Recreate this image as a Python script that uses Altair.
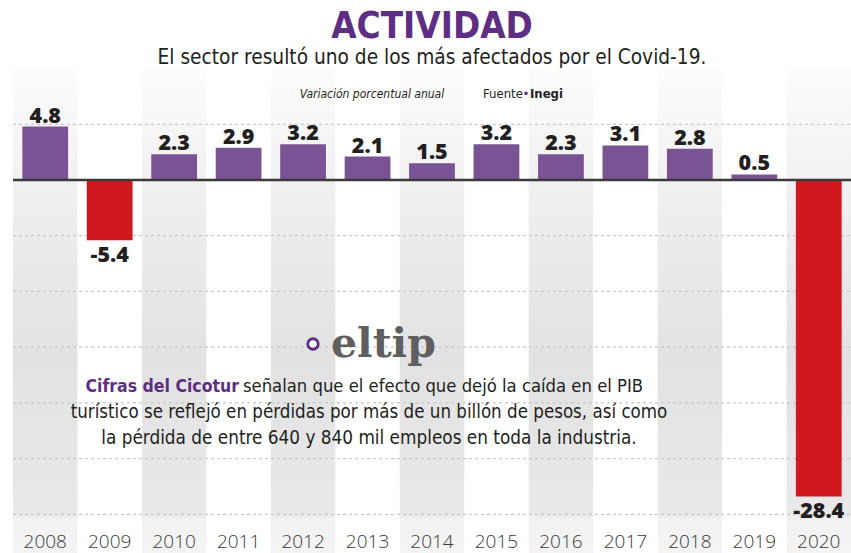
import altair as alt
import pandas as pd

# ---- data ----
years = ["2008", "2009", "2010", "2011", "2012", "2013", "2014",
         "2015", "2016", "2017", "2018", "2019", "2020"]
values = [4.8, -5.4, 2.3, 2.9, 3.2, 2.1, 1.5, 3.2, 2.3, 3.1, 2.8, 0.5, -28.4]
grid_ticks = [5, -5, -10, -15, -20, -25, -30]

title_text = ["ACTIVIDAD"]
subtitle_text = ["El sector resultó uno de los más afectados por el Covid-19."]
unit_text = ["Variación porcentual anual"]
source_text = ["Fuente", "•", "Inegi"]
logo_text = ["eltip"]
note_lead = ["Cifras del Cicotur"]
note_lines = ["señalan que el efecto que dejó la caída en el PIB",
              "turístico se reflejó en pérdidas por más de un billón de pesos, así como",
              "la pérdida de entre 640 y 840 mil empleos en toda la industria."]

PURPLE = "#7a5394"
TITLE_PURPLE = "#5e2e85"
RED = "#d2181f"
DARK = "#231f20"
COND = "Liberation Sans Narrow, DejaVu Sans Condensed, Open Sans"
BOLD = "Open Sans, Liberation Sans"

LEFT = 13  # left padding of the plot area

df = pd.DataFrame({
    "year": years,
    "value": values,
    "label": [f"{v:.1f}" for v in values],
    "shade": [i % 2 == 0 for i in range(len(years))],
})
grid_df = pd.DataFrame({"tick": grid_ticks})

xs = alt.Scale(paddingInner=0, paddingOuter=0)
ys = alt.Scale(domain=[-33.474, 16.153], nice=False, zero=False)
X = alt.X("year:N", scale=xs, axis=None, sort=years)
Y = alt.Y("value:Q", scale=ys, axis=None)

base = alt.Chart(df)

bands = base.transform_filter("datum.shade").mark_rect(
    fill=alt.Gradient(
        gradient="linear", x1=0, x2=0, y1=0, y2=1,
        stops=[alt.GradientStop(offset=0, color="#fdfdfd"),
               alt.GradientStop(offset=0.25, color="#f0f0f0"),
               alt.GradientStop(offset=0.6, color="#e2e2e2"),
               alt.GradientStop(offset=0.92, color="#e9e9e9"),
               alt.GradientStop(offset=0.93, color="#f2f2f2"),
               alt.GradientStop(offset=1, color="#f4f4f4")],
    )
).encode(x=X, y=alt.value(67), y2=alt.value(553))

grid = alt.Chart(grid_df).mark_rule(
    color="#c8c8c8", strokeDash=[3, 3], strokeWidth=1.2
).encode(y=alt.Y("tick:Q", scale=ys, axis=None), x=alt.value(0), x2=alt.value(851 - LEFT))

bars = base.mark_bar(width=alt.RelativeBandSize(0.71)).encode(
    x=X, y=Y,
    color=alt.condition("datum.value < 0", alt.value(RED), alt.value(PURPLE)),
)

zero = base.transform_filter("datum.year == '2008'").transform_calculate(z="0").mark_rule(
    color="#3a3a3a", strokeWidth=2.5
).encode(y=alt.Y("z:Q", scale=ys, axis=None), x=alt.value(0), x2=alt.value(851 - LEFT))

pos_lab = base.transform_filter("datum.value >= 0").mark_text(
    font=BOLD, fontWeight=800, fontSize=21.5, color=DARK, baseline="alphabetic", dy=-4
).encode(x=X, y=Y, text="label:N")

neg_lab = base.transform_filter("datum.value < 0").mark_text(
    font=BOLD, fontWeight=800, fontSize=21.5, color=DARK, baseline="alphabetic", dy=22
).encode(x=X, y=Y, text="label:N")

year_lab = base.mark_text(
    font="Open Sans", fontWeight=300, fontSize=19, color="#3a3a3a", baseline="alphabetic"
).encode(x=X, y=alt.value(548), text="year:N")


def label(txt, x, y, size, color=DARK, font=COND, weight="normal", align="center",
          style="normal"):
    return alt.Chart(pd.DataFrame({"t": [txt]})).mark_text(
        font=font, fontSize=size, fontWeight=weight, color=color, align=align,
        baseline="alphabetic", fontStyle=style
    ).encode(x=alt.value(x - LEFT), y=alt.value(y), text="t:N")


texts = [
    label(title_text[0], 432, 38, 36.5, TITLE_PURPLE, weight="bold"),
    label(subtitle_text[0], 432, 64, 20.7),
    label(unit_text[0], 372, 98, 12, style="italic"),
    label(source_text[0], 483, 98, 13, align="left"),
    label(source_text[1], 526, 98, 13, TITLE_PURPLE, align="center"),
    label(source_text[2], 530, 98, 13, weight="bold", align="left"),
    label(logo_text[0], 331, 357, 41, "#5f5e60", font="DejaVu Serif", weight="bold",
          align="left"),
    label(note_lead[0], 239, 392, 17.5, TITLE_PURPLE, weight="bold", align="right"),
    label(note_lines[0], 243, 392, 18.3, align="left"),
    label(note_lines[1], 369, 418, 18.6),
    label(note_lines[2], 369, 444, 18.8),
]

logo_dot = alt.Chart(pd.DataFrame({"t": ["o"]})).mark_point(
    shape="circle", size=110, stroke=TITLE_PURPLE, strokeWidth=2.8, fill="white",
    filled=True, opacity=1
).encode(x=alt.value(313 - LEFT), y=alt.value(344))

chart = alt.layer(
    bands, grid, bars, zero, pos_lab, neg_lab, year_lab, *texts, logo_dot
).properties(
    width=838, height=553, autosize=alt.AutoSizeParams(type="none"),
    padding={"left": LEFT, "top": 0, "right": 0, "bottom": 0},
    background="white"
).configure_view(stroke=None)

chart.save("out.html", embed_options={"renderer": "svg", "actions": False})
